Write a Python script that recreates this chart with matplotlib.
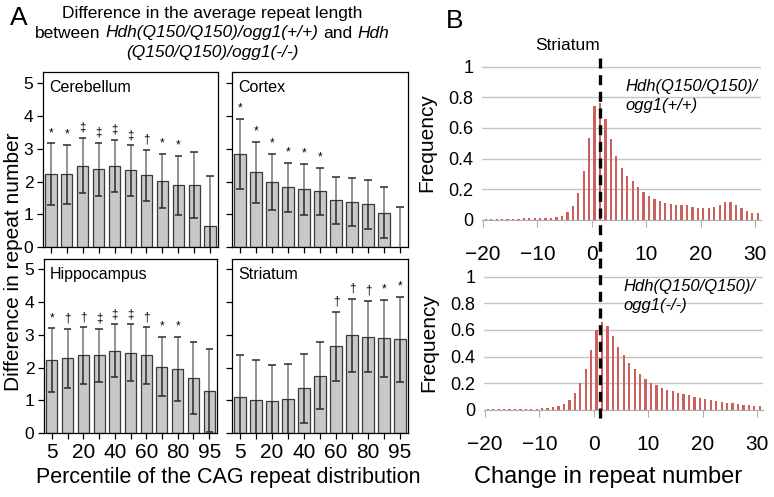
import matplotlib
matplotlib.use("Agg")
import matplotlib.pyplot as plt
import numpy as np
from matplotlib.lines import Line2D
from matplotlib.transforms import blended_transform_factory

plt.rcParams['font.family'] = ['Liberation Sans', 'DejaVu Sans']

W, H = 774, 497

# ---- panel A: difference in mean repeat length per percentile ----
percentiles = [5, 10, 20, 30, 40, 50, 60, 70, 80, 90, 95]

cerebellum_mean = [2.22, 2.22, 2.49, 2.37, 2.47, 2.34, 2.20, 2.02, 1.89, 1.89, 0.65]
cerebellum_err = [0.95, 0.90, 0.85, 0.81, 0.80, 0.77, 0.78, 0.82, 0.90, 1.00, 1.51]
cerebellum_sig = ['*', '*', '‡', '‡', '‡', '‡', '†', '*', '*', '', '']

cortex_mean = [2.84, 2.28, 1.98, 1.82, 1.76, 1.70, 1.43, 1.37, 1.31, 1.05, 0.0]
cortex_err = [1.07, 0.94, 0.86, 0.76, 0.78, 0.73, 0.72, 0.74, 0.75, 0.79, 1.23]
cortex_sig = ['*', '*', '*', '*', '*', '*', '', '', '', '', '']

hippocampus_mean = [2.23, 2.28, 2.37, 2.37, 2.51, 2.46, 2.37, 2.03, 1.96, 1.67, 1.29]
hippocampus_err = [0.97, 0.90, 0.86, 0.82, 0.81, 0.86, 0.86, 0.91, 0.98, 1.10, 1.27]
hippocampus_sig = ['*', '†', '†', '‡', '‡', '‡', '†', '*', '*', '', '']

striatum_mean = [1.09, 1.00, 0.97, 1.03, 1.37, 1.75, 2.65, 2.99, 2.95, 2.89, 2.86]
striatum_err = [1.28, 1.22, 1.12, 1.09, 1.06, 1.03, 1.06, 1.11, 1.09, 1.18, 1.30]
striatum_sig = ['', '', '', '', '', '', '†', '†', '†', '*', '*']

# ---- panel B: striatum repeat-change distributions ----
change = list(range(-20, 31))
freq_wt = [0.008, 0.008, 0.008, 0.008, 0.009, 0.009, 0.009, 0.010, 0.010, 0.010,
           0.011, 0.013, 0.015, 0.017, 0.026, 0.050, 0.093, 0.175, 0.320, 0.535,
           0.740, 0.760, 0.660, 0.525, 0.415, 0.340, 0.290, 0.255, 0.215, 0.180, 0.155,
           0.136, 0.123, 0.113, 0.104, 0.100, 0.100, 0.097, 0.087, 0.080, 0.078,
           0.080, 0.087, 0.100, 0.120, 0.117, 0.097, 0.080, 0.056, 0.043, 0.043]
freq_ko = [0.004, 0.004, 0.004, 0.005, 0.005, 0.006, 0.006, 0.007, 0.008, 0.010,
           0.012, 0.016, 0.022, 0.030, 0.045, 0.075, 0.125, 0.200, 0.310, 0.450,
           0.600, 0.660, 0.630, 0.555, 0.475, 0.410, 0.355, 0.305, 0.270, 0.235, 0.205,
           0.185, 0.165, 0.150, 0.140, 0.130, 0.120, 0.110, 0.100, 0.090, 0.080,
           0.072, 0.066, 0.060, 0.055, 0.050, 0.045, 0.040, 0.035, 0.032, 0.028]
ref_change = 1


def px_axes(fig, left, top, right, bottom):
    return fig.add_axes([left / W, 1 - bottom / H, (right - left) / W, (bottom - top) / H])


def draw_region(ax, name, mean, err, sig, show_x, show_y, ymax):
    x = np.arange(len(percentiles))
    mean = np.array(mean)
    err = np.array(err)
    ax.bar(x, mean, width=0.7, color='#c8c8c8', edgecolor='#3a3a3a', linewidth=0.9, zorder=2)
    ax.vlines(x, mean, mean + err, color='#8a8a8a', lw=1.3, zorder=3)
    ax.vlines(x, mean - err, mean, color='#2a2a2a', lw=1.1, zorder=3)
    ax.hlines(mean + err, x - 0.23, x + 0.23, color='#2a2a2a', lw=1.1, zorder=3)
    ax.hlines(mean - err, x - 0.23, x + 0.23, color='#2a2a2a', lw=1.1, zorder=3)
    for xi, m, e, s in zip(x, mean, err, sig):
        if s:
            ax.text(xi, m + e + 0.13, s, ha='center', va='bottom', fontsize=8.5)
    ax.set_xlim(-0.5, 10.5)
    ax.set_ylim(0, ymax)
    ax.set_xticks(x)
    ax.set_xticklabels([str(p) if i % 2 == 0 else '' for i, p in enumerate(percentiles)]
                       if show_x else [])
    ax.set_yticks(range(6))
    if not show_y:
        ax.set_yticklabels([])
    ax.tick_params(axis='x', length=4, width=0.9, labelsize=15, pad=3)
    ax.tick_params(axis='y', length=4, width=0.9, labelsize=12.5, pad=3)
    for sp in ax.spines.values():
        sp.set_linewidth(0.9)
    ax.text(0.035, 0.955, name, transform=ax.transAxes, ha='left', va='top', fontsize=11.5)


def draw_hist(ax, freq, label, lx, ly):
    pos = np.array(change) + 0.5
    ax.bar(pos, freq, width=0.42, color='#cd605d', zorder=2)
    ax.set_xlim(-20.2, 31.1)
    ax.set_ylim(0, 1.004)
    ax.set_yticks(np.arange(0, 1.01, 0.2))
    ax.set_yticklabels(['0', '0.2', '0.4', '0.6', '0.8', '1'])
    ax.set_xticks([-20, -10, 0, 10, 20, 30])
    ax.yaxis.grid(True, color='#c4c4c4', lw=1)
    ax.set_axisbelow(True)
    for s in ['top', 'right', 'left']:
        ax.spines[s].set_visible(False)
    ax.spines['bottom'].set_color('#b0b0b0')
    ax.tick_params(axis='x', length=5, color='#b0b0b0', labelsize=15, pad=13)
    ax.tick_params(axis='y', length=0, labelsize=13, pad=6)
    ax.set_ylabel('Frequency', fontsize=15)
    ax.yaxis.set_label_coords(-0.165, 0.5)
    ax.text(lx, ly, label, transform=ax.transAxes, ha='left', va='top',
            fontsize=12, style='italic', linespacing=1.3)


def rich_line(fig, xc, yb, pieces, size):
    r = fig.canvas.get_renderer()
    arts = [fig.text(0, yb, s, style=st, fontsize=size, va='baseline') for s, st in pieces]
    p1 = fig.text(0, 0, 'a a', fontsize=size)
    p2 = fig.text(0, 0, 'aa', fontsize=size)
    gap = (p1.get_window_extent(r).width - p2.get_window_extent(r).width) / fig.bbox.width
    p1.remove()
    p2.remove()
    widths = [a.get_window_extent(r).width / fig.bbox.width for a in arts]
    x = xc - (sum(widths) + gap * (len(arts) - 1)) / 2
    for a, w in zip(arts, widths):
        a.set_x(x)
        x += w + gap


fig = plt.figure(figsize=(W / 100, H / 100), dpi=100)

ax_cb = px_axes(fig, 43, 72, 218, 247)
ax_cx = px_axes(fig, 232, 72, 408, 247)
ax_hc = px_axes(fig, 44, 259, 217, 433)
ax_st = px_axes(fig, 232, 259, 408, 433)

draw_region(ax_cb, 'Cerebellum', cerebellum_mean, cerebellum_err, cerebellum_sig, False, True, 5.35)
draw_region(ax_cx, 'Cortex', cortex_mean, cortex_err, cortex_sig, False, False, 5.35)
draw_region(ax_hc, 'Hippocampus', hippocampus_mean, hippocampus_err, hippocampus_sig, True, True, 5.32)
draw_region(ax_st, 'Striatum', striatum_mean, striatum_err, striatum_sig, True, False, 5.32)

fig.text(14 / W, 1 - 262 / H, 'Difference in repeat number', rotation=90,
         ha='center', va='center', fontsize=15)
fig.text(228 / W, 1 - 477 / H, 'Percentile of the CAG repeat distribution',
         ha='center', va='center', fontsize=15.5)

fig.text(19 / W, 1 - 18 / H, 'A', ha='center', va='center', fontsize=19)
fig.text(212 / W, 1 - 18 / H, 'Difference in the average repeat length',
         ha='center', va='baseline', fontsize=12.5)
rich_line(fig, 212 / W, 1 - 37.5 / H,
          [('between', 'normal'), ('Hdh(Q150/Q150)/ogg1(+/+)', 'italic'),
           ('and', 'normal'), ('Hdh', 'italic')], 12.5)
fig.text(212 / W, 1 - 57 / H, '(Q150/Q150)/ogg1(-/-)', style='italic',
         ha='center', va='baseline', fontsize=12.5)

ax_wt = px_axes(fig, 482, 66, 761, 220)
ax_ko = px_axes(fig, 484, 276, 763, 410)
draw_hist(ax_wt, freq_wt, 'Hdh(Q150/Q150)/\nogg1(+/+)', 0.515, 0.915)
draw_hist(ax_ko, freq_ko, 'Hdh(Q150/Q150)/\nogg1(-/-)', 0.5, 0.975)

fig.text(455 / W, 1 - 21 / H, 'B', ha='center', va='center', fontsize=19)
fig.text(568 / W, 1 - 46 / H, 'Striatum', ha='center', va='center', fontsize=12.5)
fig.text(608 / W, 1 - 477 / H, 'Change in repeat number', ha='center', va='center', fontsize=17)

# dashed reference line crossing both histograms
tr = blended_transform_factory(ax_wt.transData, fig.transFigure)
fig.add_artist(Line2D([ref_change + 0.5] * 2, [1 - 58 / H, 1 - 423 / H], transform=tr,
                      color='black', lw=2.4, ls=(0, (3, 2)), zorder=5))

fig.savefig('out.png', dpi=100)
